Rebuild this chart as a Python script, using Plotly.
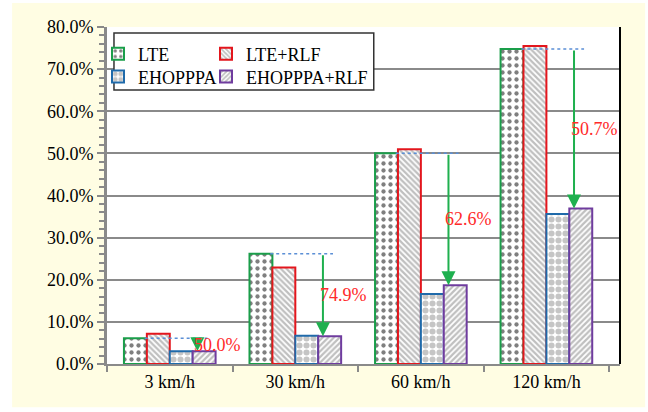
import plotly.graph_objects as go

categories = ["3 km/h", "30 km/h", "60 km/h", "120 km/h"]
lte = [6.1, 26.2, 50.0, 74.8]
lte_rlf = [7.2, 22.9, 51.0, 75.5]
ehopppa = [3.0, 6.7, 16.6, 35.6]
ehopppa_rlf = [3.0, 6.6, 18.7, 36.9]
reduction_labels = ["50.0%", "74.9%", "62.6%", "50.7%"]
y_ticks = [0, 10, 20, 30, 40, 50, 60, 70, 80]
y_tick_text = ["0.0%", "10.0%", "20.0%", "30.0%", "40.0%", "50.0%", "60.0%", "70.0%", "80.0%"]

FONT = "Liberation Serif"
GRAY = "#8a8a8a"

fig = go.Figure()

series = [
    ("LTE", lte, "#1a9e4a", dict(shape=".", fgcolor="black", bgcolor="white", size=7, solidity=0.3), "legend"),
    ("LTE+RLF", lte_rlf, "#e3161d", dict(shape="\\", fgcolor="#808080", bgcolor="white", size=4, solidity=0.55), "legend2"),
    ("EHOPPPA", ehopppa, "#1f6aaa", dict(shape=".", fgcolor="#8c8c8c", bgcolor="white", size=7, solidity=0.6), "legend3"),
    ("EHOPPPA+RLF", ehopppa_rlf, "#6f3c9e", dict(shape="/", fgcolor="#808080", bgcolor="white", size=4, solidity=0.55), "legend4"),
]
for name, vals, col, pat, lg in series:
    fig.add_trace(go.Bar(
        x=categories, y=vals, name=name, legend=lg, showlegend=True,
        marker=dict(color="white", line=dict(color=col, width=2), pattern=pat),
    ))

shapes = [
    dict(type="rect", xref="paper", yref="paper", x0=-0.185, x1=1.049, y0=-0.128, y1=1.071,
         fillcolor="#fffde3", line=dict(width=0), layer="below"),
    dict(type="rect", xref="paper", yref="paper", x0=0, x1=1, y0=0, y1=1,
         fillcolor="white", line=dict(width=0), layer="below"),
    dict(type="line", xref="paper", yref="paper", x0=1, x1=1, y0=0, y1=1,
         line=dict(color="black", width=2), layer="above"),
    dict(type="rect", xref="paper", yref="paper", x0=0.0136, x1=0.52, y0=0.813, y1=0.982,
         fillcolor="white", line=dict(color="#333333", width=1.5), layer="above"),
]
annotations = []
for i, cat in enumerate(categories):
    shapes.append(dict(type="line", xref="x", yref="y", x0=i - 0.2, x1=i + 0.3,
                       y0=lte[i], y1=lte[i], line=dict(color="#5b8fd6", width=1.5, dash="dot")))
    annotations.append(dict(x=i + 0.22, y=ehopppa_rlf[i], ax=i + 0.22, ay=lte[i],
                            xref="x", yref="y", axref="x", ayref="y", text="",
                            showarrow=True, arrowhead=2, arrowsize=1.4, arrowwidth=2,
                            arrowcolor="#1fb04f"))
    annotations.append(dict(x=i + 0.18, y=(lte[i] + ehopppa_rlf[i]) / 2, xref="x", yref="y",
                            text=reduction_labels[i], showarrow=False, xanchor="left",
                            font=dict(family=FONT, size=18, color="#ff2a2a")))

def leg(x, y):
    return dict(x=x, y=y, xanchor="left", yanchor="middle", bgcolor="rgba(0,0,0,0)",
                borderwidth=0, tracegroupgap=0, font=dict(family=FONT, size=18))

fig.update_layout(
    width=648, height=412,
    margin=dict(l=107, r=28, t=27, b=48, autoexpand=False),
    paper_bgcolor="white", plot_bgcolor="white",
    barmode="group", bargap=0.27, bargroupgap=0,
    font=dict(family=FONT, size=18, color="black"),
    shapes=shapes, annotations=annotations,
    showlegend=True,
    legend=leg(-0.0175, 0.92),
    legend2=leg(0.193, 0.92),
    legend3=leg(-0.0175, 0.852),
    legend4=leg(0.193, 0.852),
    xaxis=dict(type="category", tickson="boundaries", ticks="outside", ticklen=6, tickwidth=2,
               tickcolor=GRAY, showline=True, linecolor=GRAY, linewidth=2, showgrid=False,
               automargin=False, tickfont=dict(family=FONT, size=18, color="black")),
    yaxis=dict(range=[0, 80], tickmode="array", tickvals=y_ticks, ticktext=y_tick_text,
               ticks="outside", ticklen=7, tickwidth=2, tickcolor=GRAY,
               showline=True, linecolor=GRAY, linewidth=3, automargin=False,
               showgrid=True, gridcolor=GRAY, gridwidth=2, zeroline=False,
               minor=dict(dtick=2, ticks="outside", ticklen=5, tickwidth=2, tickcolor=GRAY, showgrid=False),
               tickfont=dict(family=FONT, size=18, color="black")),
)

fig.write_html("out.html", config={"displayModeBar": False},
               post_script="document.body.style.margin='0';")
